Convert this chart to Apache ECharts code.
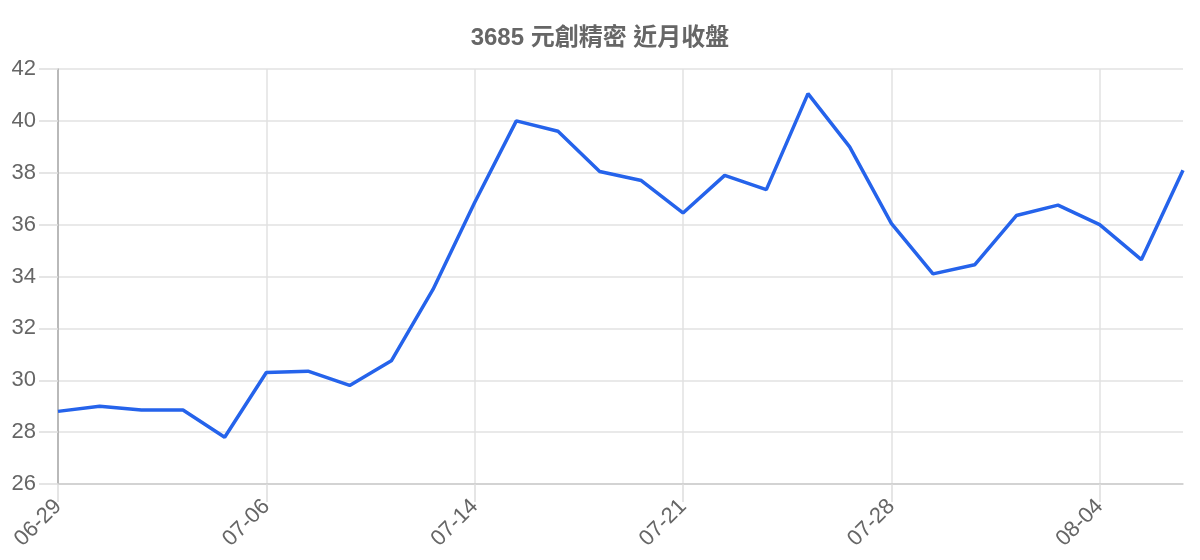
<!DOCTYPE html>
<html><head><meta charset="utf-8">
<script src="https://cdn.jsdelivr.net/npm/echarts@6/dist/echarts.min.js"></script>
<style>html,body{margin:0;padding:0;background:#fff}#c{width:1200px;height:560px}</style>
</head><body><div id="c"></div>
<script>
const title = '3685 元創精密 近月收盤';
const dates = ['06-29','06-30','07-03','07-04','07-05','07-06','07-07','07-10','07-11','07-12','07-14',
  '07-17','07-18','07-19','07-20','07-21','07-24','07-25','07-26','07-27','07-28',
  '07-31','08-01','08-02','08-03','08-04','08-07','08-08'];
const closes = [28.8,29.0,28.85,28.85,27.8,30.3,30.35,29.8,30.75,33.5,36.85,
  40.0,39.6,38.05,37.7,36.45,37.9,37.35,41.05,39.0,36.05,
  34.1,34.45,36.35,36.75,36.0,34.65,38.1];
const yTicks = {min:26, max:42, step:2};

const chart = echarts.init(document.getElementById('c'));
chart.setOption({
  animation:false,
  title:{text:title,left:'center',top:21,textStyle:{fontFamily:'Liberation Sans, Noto Sans CJK TC',fontSize:24,fontWeight:'bold',color:'#666'}},
  grid:{left:58,right:17,top:69,bottom:76,containLabel:false},
  xAxis:{type:'category',data:dates,boundaryGap:false,
    axisLine:{lineStyle:{color:'#ccc',width:1.5}},
    axisTick:{show:true,interval:4,length:18,lineStyle:{color:'#ddd',width:1.5}},
    axisLabel:{interval:4,rotate:45,fontSize:22,color:'#666',fontFamily:'Liberation Sans',margin:19},
    splitLine:{show:true,interval:4,lineStyle:{color:'#e2e2e2',width:1.5}}},
  yAxis:{type:'value',min:yTicks.min,max:yTicks.max,interval:yTicks.step,
    axisLine:{show:true,lineStyle:{color:'#aaa',width:1.5}},
    axisTick:{show:true,length:19,lineStyle:{color:'#ddd',width:1.5}},
    axisLabel:{fontSize:22,color:'#666',fontFamily:'Liberation Sans',margin:22},
    splitLine:{lineStyle:{color:'#e2e2e2',width:1.5}}},
  series:[{type:'line',data:closes,symbol:'none',lineStyle:{color:'#2563eb',width:3.5},itemStyle:{color:'#2563eb'}}]
});
</script></body></html>
